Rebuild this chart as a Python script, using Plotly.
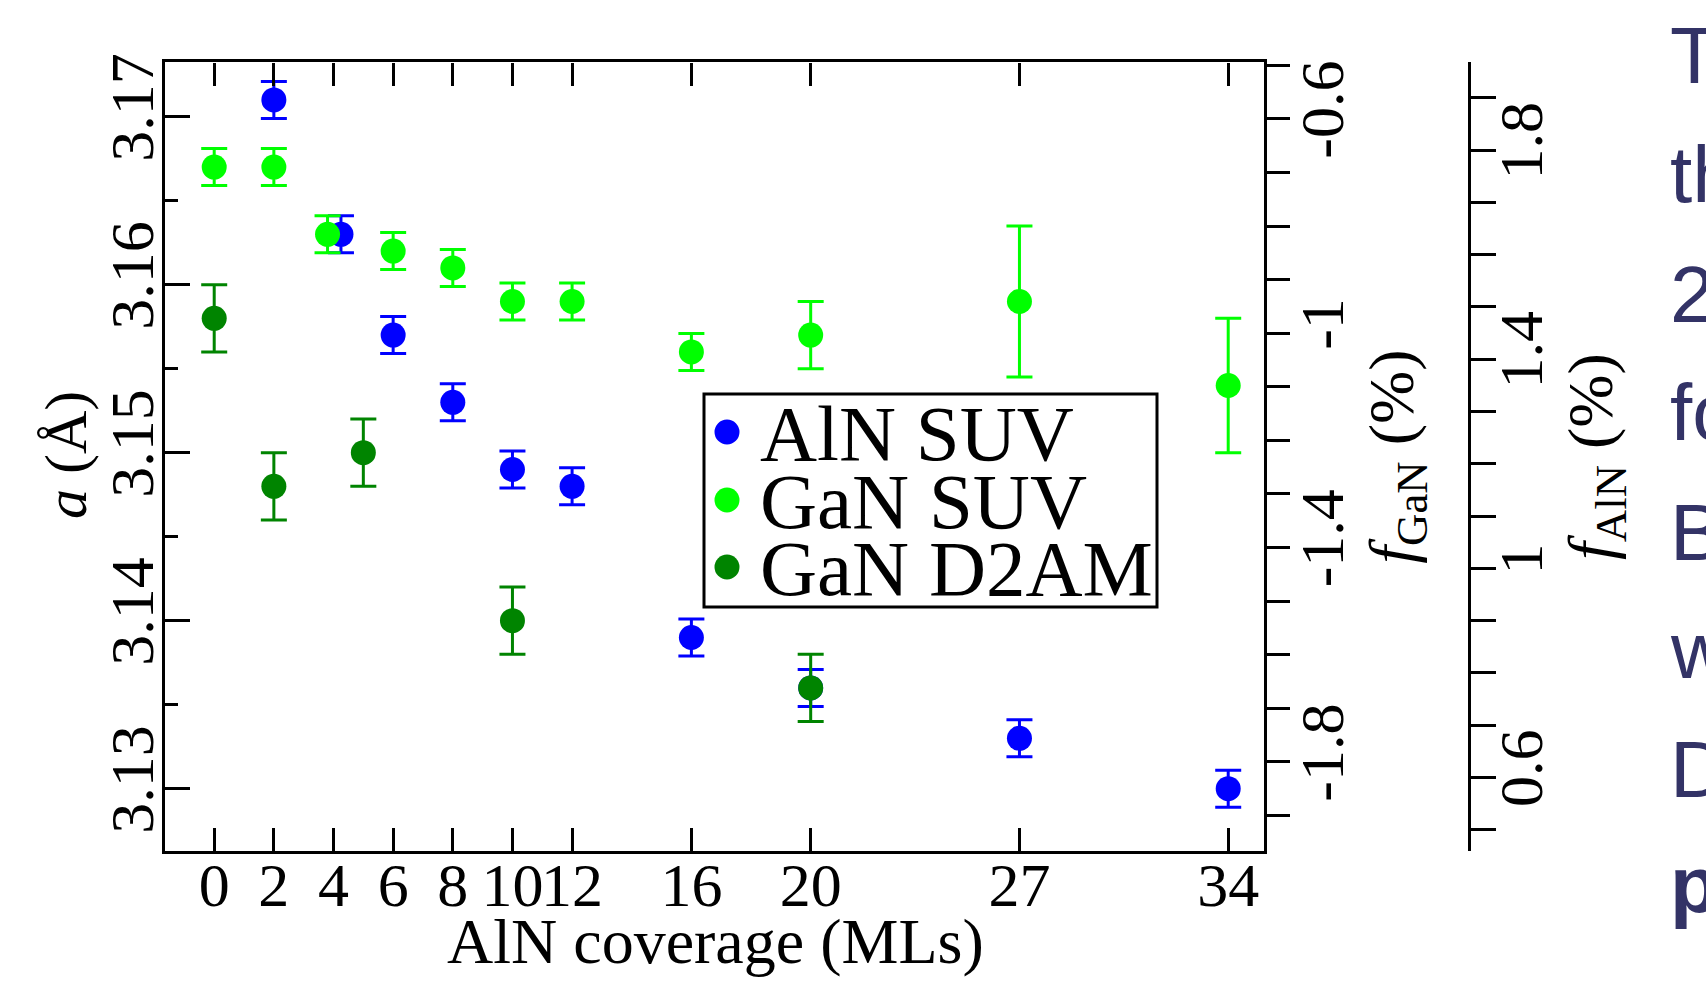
import plotly.graph_objects as go
import numpy as np

# ---------------- data ----------------
aln_x = [2, 4.25, 6, 8, 10, 12, 16, 20, 27, 34]
aln_a = [3.171, 3.163, 3.157, 3.153, 3.149, 3.148, 3.139, 3.136, 3.133, 3.130]
aln_err = [0.0011, 0.0011, 0.0011, 0.0011, 0.0011, 0.0011, 0.0011, 0.0011, 0.0011, 0.0011]

gan_suv_x = [0, 2, 3.8, 6, 8, 10, 12, 16, 20, 27, 34]
gan_suv_a = [3.167, 3.167, 3.163, 3.162, 3.161, 3.159, 3.159, 3.156, 3.157, 3.159, 3.154]
gan_suv_err = [0.0011, 0.0011, 0.0011, 0.0011, 0.0011, 0.0011, 0.0011, 0.0011, 0.002, 0.0045, 0.004]

gan_d2am_x = [0, 2, 5, 10, 20]
gan_d2am_a = [3.158, 3.148, 3.150, 3.140, 3.136]
gan_d2am_err = [0.002, 0.002, 0.002, 0.002, 0.002]

x_ticks = [0, 2, 4, 6, 8, 10, 12, 16, 20, 27, 34]
a_ticks = [3.13, 3.14, 3.15, 3.16, 3.17]
a_labels = ["3.13", "3.14", "3.15", "3.16", "3.17"]
fgan_ticks = [-1.8, -1.4, -1.0, -0.6]
fgan_labels = ["-1.8", "-1.4", "-1", "-0.6"]
faln_ticks = [0.6, 1.0, 1.4, 1.8]
faln_labels = ["0.6", "1", "1.4", "1.8"]
legend_names = ["AlN SUV", "GaN SUV", "GaN D2AM"]
side_text = ["T", "th", "2", "fo", "B", "w", "D", "p"]

A0_GAN = 3.189
A0_ALN = 3.112

# ---------------- styling ----------------
BLUE = "#0000ff"
LGREEN = "#00ff00"
DGREEN = "#008400"
SERIF = "Liberation Serif, Times New Roman, serif"
SANS = "Liberation Sans, Arial, sans-serif"
W, H = 1706, 992
ML, MR, MT, MB = 165, 237, 62, 141
PW = W - ML - MR
PH = H - MT - MB
FRAME_R = 1264
XDOM = (FRAME_R - ML) / PW

x_range = [-1.65, 35.2]
a_range = [3.126292, 3.173256]
fgan_range = [(v / A0_GAN - 1) * 100 for v in a_range]
faln_range = [(v / A0_ALN - 1) * 100 for v in a_range]

fig = go.Figure()

series = [
    (aln_x, aln_a, aln_err, BLUE, legend_names[0]),
    (gan_suv_x, gan_suv_a, gan_suv_err, LGREEN, legend_names[1]),
    (gan_d2am_x, gan_d2am_a, gan_d2am_err, DGREEN, legend_names[2]),
]
for xs, ys, es, col, name in series:
    fig.add_trace(go.Scatter(
        x=xs, y=ys, mode="markers", name=name, showlegend=False,
        marker=dict(size=25, color=col, line=dict(width=0)),
        error_y=dict(type="data", array=es, visible=True, color=col,
                     thickness=3, width=13),
        xaxis="x", yaxis="y",
    ))

# invisible traces to activate the secondary axes
fig.add_trace(go.Scatter(x=[0], y=[None], yaxis="y2", showlegend=False, hoverinfo="skip"))
fig.add_trace(go.Scatter(x=[0], y=[None], yaxis="y3", showlegend=False, hoverinfo="skip"))
fig.add_trace(go.Scatter(x=[0], y=[None], xaxis="x2", yaxis="y", showlegend=False, hoverinfo="skip"))

tickfont = dict(family=SERIF, size=62, color="black")
titlefont = dict(family=SERIF, size=64, color="black")

fig.update_layout(
    width=W, height=H,
    margin=dict(l=ML, r=MR, t=MT, b=MB, pad=0, autoexpand=False),
    paper_bgcolor="white", plot_bgcolor="white",
    showlegend=False,
    xaxis=dict(
        domain=[0, XDOM], range=x_range, automargin=False,
        tickmode="array", tickvals=x_ticks, ticktext=[str(v) for v in x_ticks],
        ticks="inside", ticklen=23, tickwidth=3, tickcolor="black",
        showline=True, linewidth=3, linecolor="black", mirror=True,
        showgrid=False, zeroline=False, tickangle=0,
        tickfont=tickfont, ticklabelstandoff=-22,
    ),
    # ticks along the top edge of the frame, pointing down into the plot
    xaxis2=dict(
        overlaying="x", anchor="free", position=1.0, side="bottom",
        range=x_range, automargin=False,
        tickmode="array", tickvals=x_ticks, showticklabels=False,
        ticks="outside", ticklen=23, tickwidth=3, tickcolor="black",
        showline=False, showgrid=False, zeroline=False,
    ),
    yaxis=dict(
        domain=[0, 1], range=a_range, automargin=False,
        tickmode="array", tickvals=a_ticks, ticktext=a_labels,
        ticks="inside", ticklen=25, tickwidth=3, tickcolor="black",
        minor=dict(dtick=0.005, tick0=3.125, ticks="inside", ticklen=13, tickwidth=3,
                   tickcolor="black", showgrid=False),
        showline=True, linewidth=3, linecolor="black", mirror=True,
        showgrid=False, zeroline=False, tickangle=-90,
        tickfont=tickfont, ticklabelstandoff=-16,
    ),
    yaxis2=dict(
        overlaying="y", side="right", anchor="x", range=fgan_range, automargin=False,
        tickmode="array", tickvals=fgan_ticks, ticktext=fgan_labels,
        ticks="outside", ticklen=23, tickwidth=3, tickcolor="black",
        minor=dict(dtick=0.1, tick0=0, ticks="outside", ticklen=23, tickwidth=3,
                   tickcolor="black", showgrid=False),
        showline=True, linewidth=3, linecolor="black",
        showgrid=False, zeroline=False, tickangle=-90,
        tickfont=tickfont, ticklabelstandoff=-21,
        title=dict(text="<i>f</i><sub>GaN</sub> (%)", font=titlefont, standoff=0),
    ),
    yaxis3=dict(
        overlaying="y", side="right", anchor="free", position=1.0, range=faln_range,
        automargin=False,
        tickmode="array", tickvals=faln_ticks, ticktext=faln_labels,
        ticks="outside", ticklen=25, tickwidth=3, tickcolor="black",
        minor=dict(dtick=0.1, tick0=0, ticks="outside", ticklen=25, tickwidth=3,
                   tickcolor="black", showgrid=False),
        showline=True, linewidth=3, linecolor="black",
        showgrid=False, zeroline=False, tickangle=-90,
        tickfont=tickfont, ticklabelstandoff=-28,
        title=dict(text="<i>f</i><sub>AlN</sub> (%)", font=titlefont, standoff=0),
    ),
)

# ---------------- helpers for pixel placement ----------------
def px_x(p):
    return (p - ML) / PW

def px_y(p):
    return (H - MB - p) / PH

# axis titles for the main (left / bottom) axes
fig.add_annotation(xref="paper", yref="paper", x=px_x(66), y=px_y(455),
                   xanchor="center", yanchor="middle", showarrow=False, textangle=-90,
                   text="<i>a</i> (Å)", font=dict(family=SERIF, size=60, color="black"))
fig.add_annotation(xref="paper", yref="paper", x=px_x(715), y=px_y(941),
                   xanchor="center", yanchor="middle", showarrow=False,
                   text="AlN coverage (MLs)", font=titlefont)

# ---------------- manual legend ----------------
LEG_L, LEG_R, LEG_T, LEG_B = 704, 1157, 394, 607
fig.add_shape(type="rect", xref="paper", yref="paper",
              x0=px_x(LEG_L), x1=px_x(LEG_R), y0=px_y(LEG_B), y1=px_y(LEG_T),
              line=dict(color="black", width=3), fillcolor="white", layer="above")
row_y = [432, 500, 567]
for (xs, ys, es, col, name), ry in zip(series, row_y):
    fig.add_shape(type="circle", xref="paper", yref="paper",
                  xsizemode="pixel", ysizemode="pixel",
                  xanchor=px_x(727), yanchor=px_y(ry),
                  x0=-12.5, x1=12.5, y0=-12.5, y1=12.5,
                  line=dict(width=0), fillcolor=col, layer="above")
    fig.add_annotation(xref="paper", yref="paper", x=px_x(758), y=px_y(ry + 1),
                       xanchor="left", yanchor="middle", showarrow=False,
                       text=name, font=dict(family=SERIF, size=79, color="black"))

# ---------------- cropped slide text on the right ----------------
baselines = [83, 202, 322, 440, 560, 678, 797, 912]
for t, b in zip(side_text, baselines):
    txt = "<b>%s</b>" % t if t == "p" else t
    fig.add_annotation(xref="paper", yref="paper", x=px_x(1668), y=px_y(b - 28),
                       xanchor="left", yanchor="middle", showarrow=False,
                       text=txt, font=dict(family=SANS, size=80, color="#333366"))

fig.write_html("out.html", config={"displayModeBar": False},
               post_script="document.body.style.margin='0';document.body.style.overflow='hidden';")
